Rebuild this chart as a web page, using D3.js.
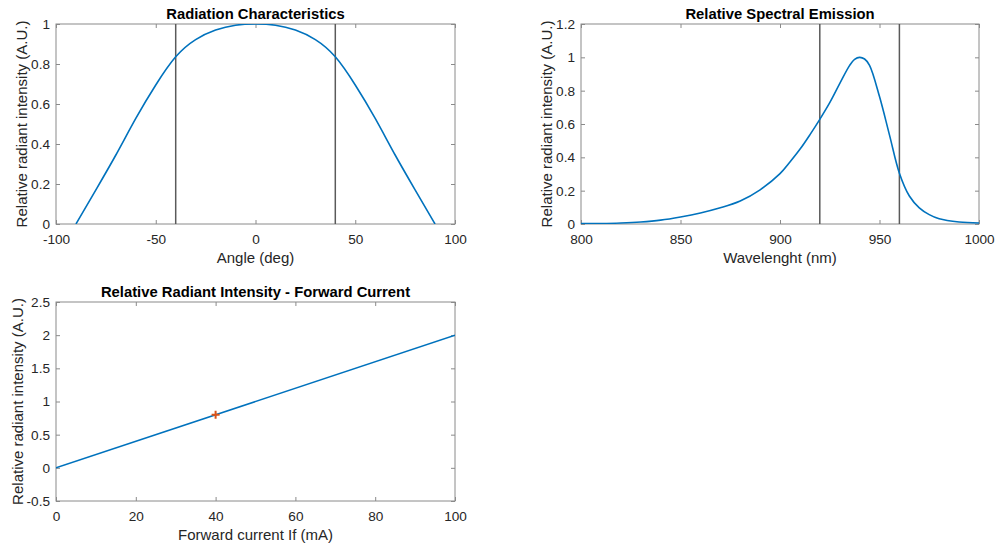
<!DOCTYPE html>
<html>
<head>
<meta charset="utf-8">
<script src="https://cdn.jsdelivr.net/npm/d3@7"></script>
<style>
  body { margin: 0; background: #fff; }
  svg { display: block; font-family: "Liberation Sans", Arial, Helvetica, sans-serif; }
  .tick text { fill: #262626; font-size: 13.6px; }
  .axis-label { fill: #262626; font-size: 15px; }
  .title { fill: #000; font-size: 14.8px; font-weight: bold; }
</style>
</head>
<body>
<svg id="fig" width="997" height="544"></svg>
<script>
// radiation characteristics (angle in deg -> relative intensity)
const angleDeg = [-90, -80, -70, -60, -50, -40, -30, -20, -10, 0, 10, 20, 30, 40, 50, 60, 70, 80, 90];
const angleIntensity = [0, 0.171, 0.345, 0.528, 0.695, 0.836, 0.922, 0.970, 0.994, 1, 0.994, 0.970, 0.922, 0.836, 0.695, 0.528, 0.345, 0.171, 0];
const angleMarkers = [-40, 40];

// spectral emission (wavelength nm -> relative intensity)
const wavelength = [800, 810, 820, 830, 840, 850, 860, 870, 880, 890, 900, 905, 910, 915, 920, 925, 930, 935, 937.5, 940, 942.5, 945, 950, 955, 960, 965, 970, 975, 980, 990, 1000];
const spectrum = [0.002, 0.003, 0.006, 0.012, 0.023, 0.042, 0.066, 0.097, 0.138, 0.205, 0.302, 0.372, 0.448, 0.535, 0.628, 0.728, 0.842, 0.952, 0.988, 1.0, 0.99, 0.952, 0.765, 0.535, 0.305, 0.168, 0.097, 0.056, 0.031, 0.012, 0.006];
const wavelengthMarkers = [920, 960];

// intensity vs forward current
const current = [0, 100];
const currentIntensity = [0, 2];
const operatingPoint = [40, 0.8];

const BLUE = "#0072BD", ORANGE = "#D95319", GRAY = "#5a5a5a";

const svg = d3.select("#fig");

function panel(opt) {
  const { left, top, width, height, xDomain, yDomain, xTicks, yTicks } = opt;
  const x = d3.scaleLinear().domain(xDomain).range([left, left + width]);
  const y = d3.scaleLinear().domain(yDomain).range([top + height, top]);
  const g = svg.append("g");

  const fmt = d => String(+d.toFixed(2));
  const tickLen = 4;

  // ticks on all four sides, pointing inward
  g.append("g").attr("transform", `translate(0,${top + height})`)
    .call(d3.axisBottom(x).tickValues(xTicks).tickSizeInner(-tickLen).tickSizeOuter(0).tickPadding(10).tickFormat(fmt));
  g.append("g").attr("transform", `translate(0,${top})`)
    .call(d3.axisTop(x).tickValues(xTicks).tickSizeInner(-tickLen).tickSizeOuter(0).tickFormat(""));
  g.append("g").attr("transform", `translate(${left},0)`)
    .call(d3.axisLeft(y).tickValues(yTicks).tickSizeInner(-tickLen).tickSizeOuter(0).tickPadding(6).tickFormat(fmt));
  g.append("g").attr("transform", `translate(${left + width},0)`)
    .call(d3.axisRight(y).tickValues(yTicks).tickSizeInner(-tickLen).tickSizeOuter(0).tickFormat(""));

  g.selectAll(".domain").remove();
  g.selectAll(".tick line").attr("stroke", "#8a8a8a");

  g.append("rect")
    .attr("x", left).attr("y", top).attr("width", width).attr("height", height)
    .attr("fill", "none").attr("stroke", "#8a8a8a").attr("stroke-width", 1);

  const clipId = "clip" + Math.round(left) + "_" + Math.round(top);
  svg.append("clipPath").attr("id", clipId)
    .append("rect").attr("x", left).attr("y", top).attr("width", width).attr("height", height);
  const plot = g.append("g").attr("clip-path", `url(#${clipId})`);

  g.append("text").attr("class", "title")
    .attr("x", left + width / 2).attr("y", top - 5)
    .attr("text-anchor", "middle").text(opt.title);
  g.append("text").attr("class", "axis-label")
    .attr("x", left + width / 2).attr("y", top + height + 39)
    .attr("text-anchor", "middle").text(opt.xLabel);
  g.append("text").attr("class", "axis-label")
    .attr("transform", `translate(${opt.yLabelX},${top + height / 2}) rotate(-90)`)
    .attr("text-anchor", "middle").text(opt.yLabel);

  return { x, y, plot };
}

function vlines(p, values) {
  p.plot.selectAll(null).data(values).enter().append("line")
    .attr("x1", d => p.x(d)).attr("x2", d => p.x(d))
    .attr("y1", p.y.range()[0]).attr("y2", p.y.range()[1])
    .attr("stroke", GRAY).attr("stroke-width", 1.5);
}

function curve(p, xs, ys, interp) {
  const line = d3.line().x(d => p.x(d[0])).y(d => p.y(d[1])).curve(interp);
  p.plot.append("path").datum(xs.map((v, i) => [v, ys[i]]))
    .attr("d", line).attr("fill", "none").attr("stroke", BLUE).attr("stroke-width", 1.6);
}

// panel 1
const p1 = panel({
  left: 56, top: 24, width: 399, height: 200,
  xDomain: [-100, 100], yDomain: [0, 1],
  xTicks: [-100, -50, 0, 50, 100], yTicks: [0, 0.2, 0.4, 0.6, 0.8, 1],
  title: "Radiation Characteristics", xLabel: "Angle (deg)",
  yLabel: "Relative radiant intensity (A.U.)", yLabelX: 27
});
vlines(p1, angleMarkers);
curve(p1, angleDeg, angleIntensity, d3.curveNatural);

// panel 2
const p2 = panel({
  left: 581, top: 24, width: 398, height: 200,
  xDomain: [800, 1000], yDomain: [0, 1.2],
  xTicks: [800, 850, 900, 950, 1000], yTicks: [0, 0.2, 0.4, 0.6, 0.8, 1, 1.2],
  title: "Relative Spectral Emission", xLabel: "Wavelenght (nm)",
  yLabel: "Relative radiant intensity (A.U.)", yLabelX: 552
});
vlines(p2, wavelengthMarkers);
curve(p2, wavelength, spectrum, d3.curveCatmullRom.alpha(0.5));

// panel 3
const p3 = panel({
  left: 56, top: 302, width: 399, height: 199,
  xDomain: [0, 100], yDomain: [-0.5, 2.5],
  xTicks: [0, 20, 40, 60, 80, 100], yTicks: [-0.5, 0, 0.5, 1, 1.5, 2, 2.5],
  title: "Relative Radiant Intensity - Forward Current", xLabel: "Forward current If (mA)",
  yLabel: "Relative radiant intensity (A.U.)", yLabelX: 23
});
curve(p3, current, currentIntensity, d3.curveLinear);
p3.plot.append("path")
  .attr("transform", `translate(${p3.x(operatingPoint[0])},${p3.y(operatingPoint[1])})`)
  .attr("d", "M-4,0H4M0,-4V4")
  .attr("stroke", ORANGE).attr("stroke-width", 2).attr("fill", "none");
</script>
</body>
</html>
